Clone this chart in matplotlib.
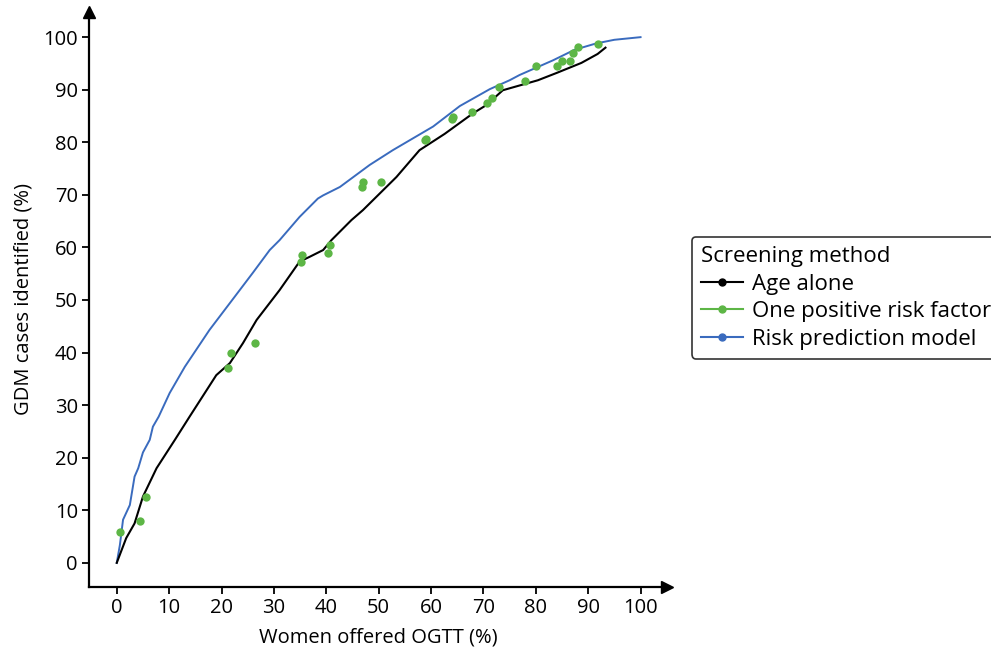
import matplotlib.pyplot as plt
from matplotlib.lines import Line2D

plt.rcParams['font.family'] = ['Open Sans', 'DejaVu Sans']

# Age alone (black curve)
age_x = [0, 1.8, 3.4, 5.0, 7.6, 11.1, 13.9, 19.0, 21.6, 24.1, 26.7, 31.1, 34.9, 36.8,
         39.4, 41.0, 44.8, 47.0, 53.4, 57.8, 62.6, 68.0, 70.6, 73.7, 80.4, 84.0, 88.7, 91.8, 93.3]
age_y = [0, 4.7, 7.5, 12.6, 18.0, 23.4, 27.8, 35.7, 38.0, 41.8, 46.2, 51.9, 57.3, 58.2,
         59.5, 61.4, 65.2, 67.1, 73.4, 78.5, 81.6, 85.5, 87.1, 89.9, 91.8, 93.2, 95.1, 96.8, 98.0]

# Risk prediction model (blue curve)
risk_x = [0, 0.6, 1.2, 2.5, 3.4, 4.1, 5.0, 6.3, 6.9, 8.0, 10.1, 13.0, 17.7, 22.5, 26.0,
          29.2, 31.1, 34.9, 38.4, 39.4, 42.6, 48.3, 52.7, 60.4, 65.5, 71.2, 75.0, 76.9,
          83.3, 87.4, 91.5, 95.0, 100.0]
risk_y = [0, 3.4, 8.2, 11.0, 16.4, 18.0, 21.0, 23.4, 25.9, 27.8, 32.3, 37.3, 44.3, 50.6, 55.2,
          59.5, 61.4, 65.8, 69.3, 69.9, 71.5, 75.7, 78.5, 83.0, 86.9, 90.1, 91.8, 92.8,
          95.6, 97.6, 98.8, 99.5, 100.0]

# One positive risk factor (green points)
rf_x = [0.6, 4.4, 5.5, 21.2, 21.8, 26.3, 35.1, 35.4, 40.4, 40.8, 46.8, 47.1, 50.5,
        58.8, 59.0, 64.0, 64.2, 67.8, 70.7, 71.6, 73.0, 78.0, 80.1, 84.0, 85.0, 86.6,
        87.1, 88.0, 91.9]
rf_y = [5.9, 8.0, 12.5, 37.1, 39.9, 41.8, 57.2, 58.6, 59.0, 60.4, 71.4, 72.4, 72.4,
        80.4, 80.7, 84.5, 84.8, 85.7, 87.4, 88.5, 90.5, 91.7, 94.5, 94.5, 95.4, 95.4,
        96.9, 98.2, 98.7]

ticks = list(range(0, 101, 10))

black = '#000000'
green = '#5DB646'
blue = '#3A6BBE'

fig = plt.figure(figsize=(9.91, 6.55), dpi=100)
ax = fig.add_axes([0.0898, 0.1038, 0.583, 0.878])

ax.plot(risk_x, risk_y, color=blue, linewidth=1.4, zorder=2)
ax.plot(age_x, age_y, color=black, linewidth=1.5, zorder=3)
ax.plot(rf_x, rf_y, 'o', color=green, markersize=6, markeredgewidth=0, zorder=4)

ax.set_xlim(-5.3, 105)
ax.set_ylim(-4.6, 104.8)
ax.set_xticks(ticks)
ax.set_yticks(ticks)
ax.tick_params(direction='out', length=5, width=1.3, labelsize=14.5, colors='black', pad=3)
for s in ['top', 'right']:
    ax.spines[s].set_visible(False)
for s in ['left', 'bottom']:
    ax.spines[s].set_linewidth(1.6)

# arrow heads on the axes
ax.plot(1, 0, '>', color='black', markersize=8, transform=ax.transAxes, clip_on=False)
ax.plot(0, 1, '^', color='black', markersize=8, transform=ax.transAxes, clip_on=False)

ax.set_xlabel('Women offered OGTT (%)', fontsize=14.5, labelpad=7)
ax.set_ylabel('GDM cases identified (%)', fontsize=14.5, labelpad=7)

handles = [
    Line2D([], [], color=black, linewidth=1.5, marker='o', markersize=5),
    Line2D([], [], color=green, linewidth=1.5, marker='o', markersize=5),
    Line2D([], [], color=blue, linewidth=1.5, marker='o', markersize=5),
]
labels = ['Age alone', 'One positive risk factor', 'Risk prediction model']
leg = fig.legend(handles, labels, title='Screening method', loc='upper left',
                 bbox_to_anchor=(692 / 991, 1 - 237 / 655), fontsize=16,
                 title_fontsize=16, alignment='left', frameon=True, fancybox=True,
                 handlelength=1.9, handletextpad=0.4, labelspacing=0.3,
                 borderpad=0.4, borderaxespad=0)
leg.get_frame().set_edgecolor('black')
leg.get_frame().set_linewidth(1.2)

fig.savefig('out.png', dpi=100)
